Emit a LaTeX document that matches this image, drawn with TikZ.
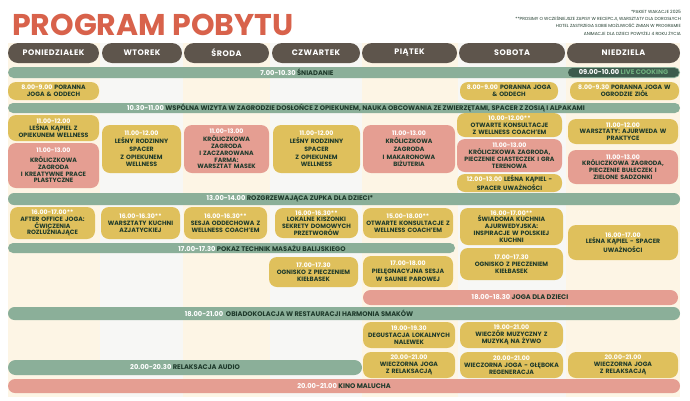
\documentclass[tikz,border=0pt]{standalone}
\usepackage{fontspec}
\setmainfont{Poppins}
\newfontfamily\naglfont[LetterSpace=6]{Poppins}
\usetikzlibrary{positioning,calc}

\definecolor{zielonypasek}{HTML}{8BAF99}
\definecolor{ciemnypasek}{HTML}{3D5B4C}
\definecolor{jasnyzielony}{HTML}{6FB07E}
\definecolor{zoltepole}{HTML}{DFC05C}
\definecolor{rozowepole}{HTML}{E59E92}
\definecolor{brazowy}{HTML}{5E554C}
\definecolor{koral}{HTML}{D8624B}
\definecolor{kremowy}{HTML}{FDF5E5}
\definecolor{szary}{HTML}{F7F7F5}
\definecolor{ciemnytekst}{HTML}{1E3A2B}

\newcommand{\czas}[1]{\textcolor{white}{#1}}

% blok: styl, nazwa, x1, y1, x2, y2, tekst
\newcommand{\blok}[7]{%
  \pgfmathsetmacro\zbw{#5-#3}\pgfmathsetmacro\zbh{#6-#4}%
  \pgfmathsetmacro\zbx{(#3+#5)/2}\pgfmathsetmacro\zby{(#4+#6)/2}%
  \pgfmathsetmacro\zbt{#5-#3-4}%
  \node[#1,minimum width=\zbw pt,minimum height=\zbh pt,text width=\zbt pt] (#2) at (\zbx,\zby) {#7};}

% pasek: styl, nazwa, x1, y1, x2, y2, x tekstu, tekst
\newcommand{\pasek}[8]{%
  \pgfmathsetmacro\zbw{#5-#3}\pgfmathsetmacro\zbh{#6-#4}%
  \pgfmathsetmacro\zbx{(#3+#5)/2}\pgfmathsetmacro\zby{(#4+#6)/2}%
  \pgfmathsetmacro\zbr{(#6-#4)/2}%
  \node[#1,minimum width=\zbw pt,minimum height=\zbh pt,rounded corners=\zbr pt] (#2) at (\zbx,\zby) {};
  \node[pasektekst] (#2-t) at (#7,\zby) {#8};}

\begin{document}
\begin{tikzpicture}[x=1pt,y=-1pt,
    naglowek/.style={fill=brazowy,text=white,rounded corners=10pt,inner sep=0pt,
      font=\naglfont\fontsize{8}{9}\selectfont\bfseries},
    zoltyblok/.style={fill=zoltepole,rounded corners=8pt,inner xsep=2pt,inner ysep=0pt,
      align=center,text=ciemnytekst,font=\fontsize{6.2}{6.8}\selectfont\bfseries},
    rozowyblok/.style={zoltyblok,fill=rozowepole},
    zielonypas/.style={fill=zielonypasek,inner sep=0pt},
    ciemnypas/.style={fill=ciemnypasek,inner sep=0pt},
    rozowypas/.style={fill=rozowepole,inner sep=0pt},
    pasektekst/.style={inner sep=0pt,text=ciemnytekst,font=\fontsize{6.7}{7}\selectfont\bfseries}]

\useasboundingbox (0,0) rectangle (690,400);
\fill[white] (0,0) rectangle (690,400);

% kolumny
\foreach \xa/\xb/\kol in {8/100/kremowy,100/183/szary,183/270/kremowy,270/362/szary,
    362/458/kremowy,458/566/szary,566/680/kremowy}
  \fill[\kol] (\xa,43) rectangle (\xb,397);

% tytul i uwagi
\node[anchor=base west,inner sep=0pt,text=koral,font=\fontsize{30}{30}\selectfont\bfseries] (tytul) at (12,35) {PROGRAM POBYTU};
\node[anchor=north east,inner sep=0pt,align=right,text=ciemnytekst,font=\fontsize{4.4}{7.2}\selectfont] (uwagi) at (681,10)
  {*PAKIET WAKACJE 2025\\**PROSIMY O WCZEŚNIEJSZE ZAPISY W RECEPCJI, WARSZTATY DLA DOROSŁYCH\\
   HOTEL ZASTRZEGA SOBIE MOŻLIWOŚĆ ZMIAN W PROGRAMIE\\ANIMACJE DLA DZIECI POWYŻEJ 4 ROKU ŻYCIA};

% dni
\foreach \nazwa/\xa/\xb [count=\i] in {PONIEDZIAŁEK/8/99,WTOREK/102/182,ŚRODA/184/269,
    CZWARTEK/272/360,PIĄTEK/362/457,SOBOTA/459/565,NIEDZIELA/567/680}{
  \pgfmathsetmacro\zbw{\xb-\xa}\pgfmathsetmacro\zbx{(\xa+\xb)/2}
  \node[naglowek,minimum width=\zbw pt,minimum height=20pt] (dzien\i) at (\zbx,53) {\nazwa};
}

% paski wspolne
\pasek{zielonypas}{sniadanie}{8}{67}{680}{78}{297}{\czas{7.00-10.30} ŚNIADANIE}
\pasek{ciemnypas}{live}{568}{68}{679}{77}{623.5}{\czas{09.00-10.00} \textcolor{jasnyzielony}{LIVE COOKING}}
\pasek{zielonypas}{wizyta}{8}{103}{680}{113}{356}{\czas{10.30-11.00} WSPÓLNA WIZYTA W ZAGRODZIE DOSŁOŃCE Z OPIEKUNEM, NAUKA OBCOWANIA ZE ZWIERZĘTAMI, SPACER Z ZOSIĄ I ALPAKAMI}
\pasek{zielonypas}{zupka}{8}{193}{680}{205}{290}{\czas{13.00-14.00} ROZGRZEWAJĄCA ZUPKA DLA DZIECI*}
\pasek{zielonypas}{masaz}{8}{243}{455}{253}{262}{\czas{17.00-17.30} POKAZ TECHNIK MASAŻU BALIJSKIEGO}
\pasek{rozowypas}{jogadzieci}{363}{290}{678}{305}{520}{\czas{18.00-18.30} JOGA DLA DZIECI}
\pasek{zielonypas}{obiad}{8}{307}{680}{320}{299}{\czas{18.00-21.00}\ \ OBIADOKOLACJA W RESTAURACJI HARMONIA SMAKÓW}
\pasek{zielonypas}{relaks}{8}{360}{362}{375}{185}{\czas{20.00-20.30} RELAKSACJA AUDIO}
\pasek{rozowypas}{kino}{8}{379}{680}{393}{344}{\czas{20.00-21.00} KINO MALUCHA}

% rano
\blok{zoltyblok}{pon-joga}{8}{82}{99}{100}{\czas{8.00-9.00} PORANNA\\JOGA \& ODDECH}
\blok{zoltyblok}{sob-joga}{460}{82}{558}{100}{\czas{8.00-9.00} PORANNA JOGA\\\& ODDECH}
\blok{zoltyblok}{nd-joga}{570}{82}{679}{100}{\czas{8.00-9.30} PORANNA JOGA W\\OGRODZIE ZIÓŁ}

% przedpoludnie
\blok{zoltyblok}{pon-kapiel}{8}{115}{99}{141}{\czas{11.00-12.00}\\LEŚNA KĄPIEL Z\\OPIEKUNEM WELLNESS}
\blok{rozowyblok}{pon-zagroda}{8}{143}{99}{188}{\czas{11.00-13.00}\\[3pt]KRÓLICZKOWA\\ZAGRODA\\I KREATYWNE PRACE\\PLASTYCZNE}
\blok{zoltyblok}{wt-spacer}{102}{125}{181}{173}{\czas{11.00-12.00}\\[1pt]LEŚNY RODZINNY\\[1pt]SPACER\\[1pt]Z OPIEKUNEM\\[1pt]WELLNESS}
\blok{rozowyblok}{sr-zagroda}{184}{125}{269}{173}{\czas{11.00-13.00}\\[1pt]KRÓLICZKOWA\\ZAGRODA\\I ZACZAROWANA\\FARMA:\\WARSZTAT MASEK}
\blok{zoltyblok}{czw-spacer}{273}{125}{360}{173}{\czas{11.00-12.00}\\[1pt]LEŚNY RODZINNY\\[1pt]SPACER\\[1pt]Z OPIEKUNEM\\[1pt]WELLNESS}
\blok{rozowyblok}{pt-zagroda}{363}{125}{455}{173}{\czas{11.00-13.00}\\[1pt]KRÓLICZKOWA\\[1pt]ZAGRODA\\[1pt]I MAKARONOWA\\[1pt]BIŻUTERIA}
\blok{zoltyblok}{sob-konsult}{457}{113}{562}{137}{\czas{10.00-12.00**}\\OTWARTE KONSULTACJE\\Z WELLNESS COACH'EM}
\blok{rozowyblok}{sob-zagroda}{457}{139}{562}{172}{\czas{11.00-13.00}\\KRÓLICZKOWA ZAGRODA,\\PIECZENIE CIASTECZEK I GRA\\TERENOWA}
\blok{zoltyblok}{sob-kapiel}{457}{174}{562}{192}{\czas{12.00-13.00} LEŚNA KĄPIEL -\\SPACER UWAŻNOŚCI}
\blok{zoltyblok}{nd-ajurweda}{568}{119}{678}{144}{\czas{11.00-12.00}\\WARSZTATY: AJURWEDA W\\PRAKTYCE}
\blok{rozowyblok}{nd-zagroda}{568}{150}{678}{184}{\czas{11.00-13.00}\\KRÓLICZKOWA ZAGRODA,\\PIECZENIE BUŁECZEK I\\ZIELONE SADZONKI}

% popoludnie
\blok{zoltyblok}{pon-office}{10}{207}{95}{239}{\czas{16.00-17.00**}\\AFTER OFFICE JOGA:\\ĆWICZENIA\\ROZLUŹNIAJĄCE}
\blok{zoltyblok}{wt-kuchnia}{101}{207}{180}{239}{\czas{16.00-16.30**}\\WARSZTATY KUCHNI\\AZJATYCKIEJ}
\blok{zoltyblok}{sr-sesja}{184}{207}{267}{239}{\czas{16.00-16.30**}\\SESJA ODDECHOWA Z\\WELLNESS COACH'EM}
\blok{zoltyblok}{czw-kiszonki}{275}{208}{358}{238}{\czas{16.00-16.30**}\\LOKALNE KISZONKI\\SEKRETY DOMOWYCH\\PRZETWORÓW}
\blok{zoltyblok}{pt-konsult}{363}{208}{453}{238}{\czas{15.00-18.00**}\\OTWARTE KONSULTACJE Z\\WELLNESS COACH'EM}
\blok{zoltyblok}{sob-kuchnia}{460}{208}{563}{245}{\czas{16.00-17.00**}\\ŚWIADOMA KUCHNIA\\AJURWEDYJSKA:\\INSPIRACJE W POLSKIEJ\\KUCHNI}
\blok{zoltyblok}{sob-ognisko}{460}{248}{563}{280}{\czas{17.00-17.30}\\OGNISKO Z PIECZENIEM\\KIEŁBASEK}
\blok{zoltyblok}{nd-kapiel}{568}{225}{678}{260}{\czas{16.00-17.00}\\LEŚNA KĄPIEL - SPACER\\UWAŻNOŚCI}
\blok{zoltyblok}{czw-ognisko}{269}{257}{358}{287}{\czas{17.00-17.30}\\OGNISKO Z PIECZENIEM\\KIEŁBASEK}
\blok{zoltyblok}{pt-sauna}{363}{256}{453}{287}{\czas{17.00-18.00}\\[1pt]PIELĘGNACYJNA SESJA\\[1pt]W SAUNIE PAROWEJ}

% wieczor
\blok{zoltyblok}{pt-nalewki}{363}{322}{455}{348}{\czas{19.00-19.30}\\DEGUSTACJA LOKALNYCH\\NALEWEK}
\blok{zoltyblok}{sob-muzyka}{460}{322}{563}{348}{\czas{19.00-21.00}\\WIECZÓR MUZYCZNY Z\\MUZYKĄ NA ŻYWO}
\blok{zoltyblok}{pt-wieczor}{363}{352}{455}{378}{\czas{20.00-21.00}\\WIECZORNA JOGA\\Z RELAKSACJĄ}
\blok{zoltyblok}{sob-wieczor}{460}{352}{563}{378}{\czas{20.00-21.00}\\WIECZORNA JOGA - GŁĘBOKA\\REGENERACJA}
\blok{zoltyblok}{nd-wieczor}{568}{352}{678}{378}{\czas{20.00-21.00}\\WIECZORNA JOGA\\Z RELAKSACJĄ}

\end{tikzpicture}
\end{document}
